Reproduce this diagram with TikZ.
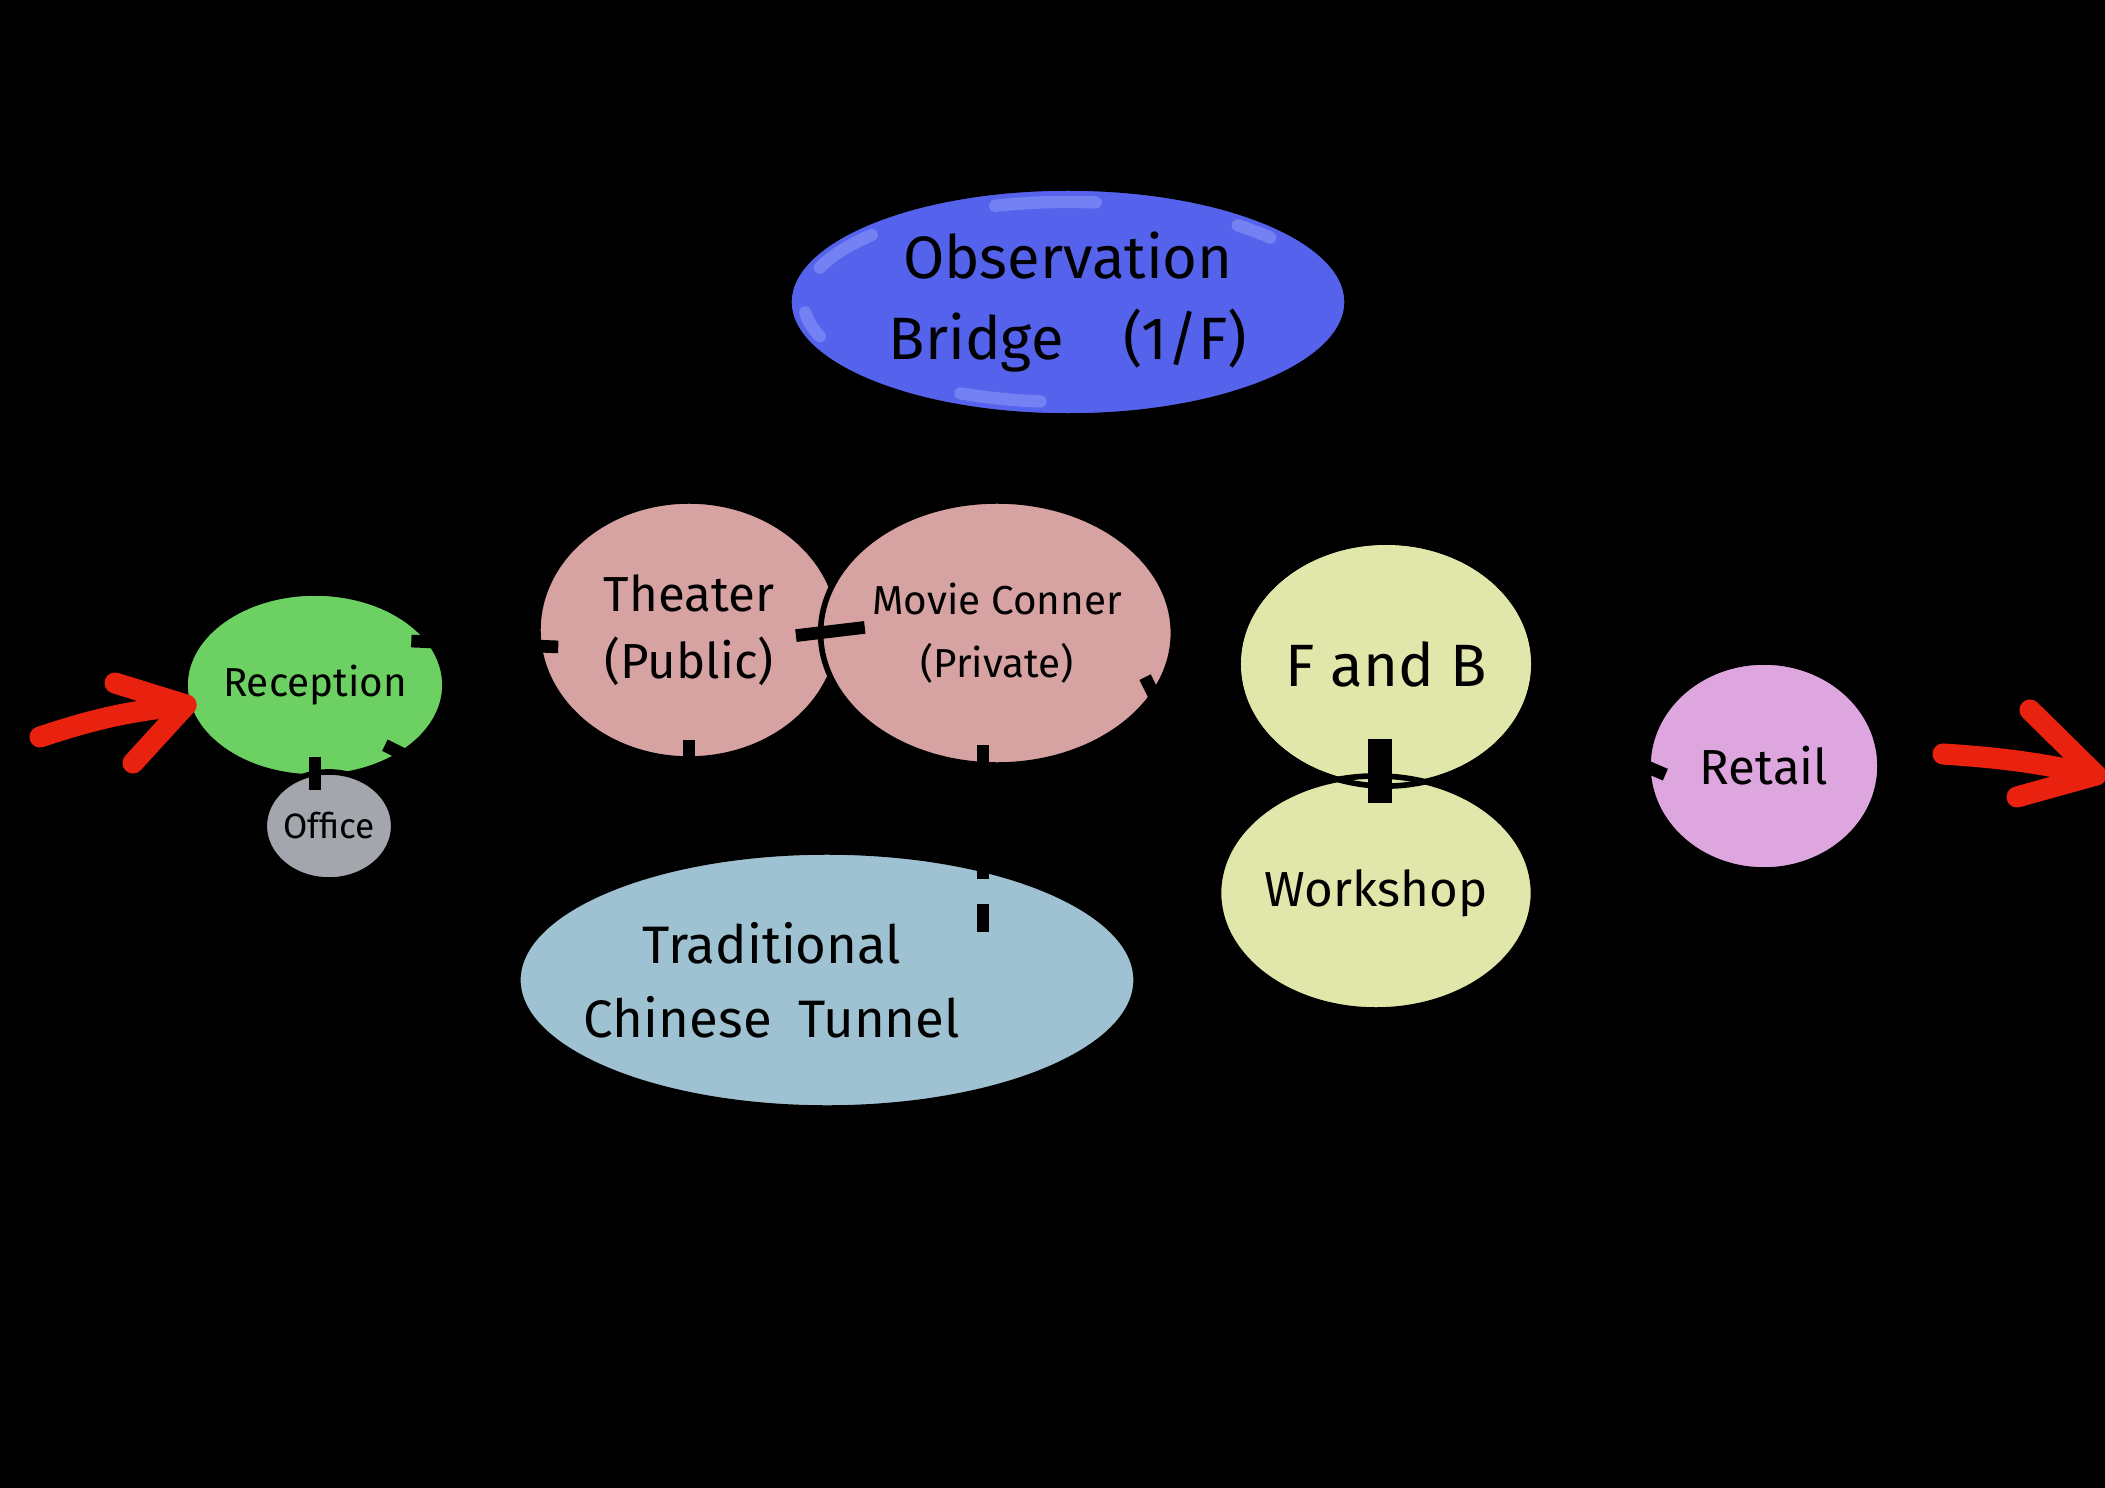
\documentclass[tikz,border=0pt]{standalone}
\usepackage{fontspec}
\setmainfont{Fira Sans}
\usepackage{xcolor}
\usepackage{tikz}
\usetikzlibrary{shapes, arrows.meta, positioning, calc, backgrounds}
\definecolor{obsblue}{HTML}{5562EC}
\definecolor{obslight}{HTML}{7381F2}
\definecolor{theaterpink}{HTML}{D6A2A2}
\definecolor{recgreen}{HTML}{6CD062}
\definecolor{officegray}{HTML}{A3A6AD}
\definecolor{tunnelblue}{HTML}{9EC2D2}
\definecolor{fbyellow}{HTML}{E1E7AA}
\definecolor{retailpink}{HTML}{DDA6DE}
\definecolor{flowred}{HTML}{E8220E}
\newcommand{\bigtxt}{\fontsize{17pt}{23pt}\selectfont}
\newcommand{\midtxt}{\fontsize{14pt}{19pt}\selectfont}
\newcommand{\smalltxt}{\fontsize{11.5pt}{18pt}\selectfont}

\begin{document}
\begin{tikzpicture}[
    x=0.01cm, y=-0.01cm,
    bubble/.style={ellipse, draw=black, line width=1.6pt, inner sep=0pt, align=center, text=black},
    link/.style={black, line width=3.6pt, shorten <=-0.22cm, shorten >=-0.22cm},
    flow/.style={flowred, line width=6pt, line cap=round, line join=round},
    streak/.style={obslight, line width=3.5pt, line cap=round},
]
% canvas
\fill[black] (0,0) rectangle (2105,1488);
\useasboundingbox (0,0) rectangle (2105,1488);
% upper floor
\node[bubble, fill=obsblue, minimum width=5.58cm, minimum height=2.28cm, font=\bigtxt] (obs) at (1068,302) {Observation\\Bridge\quad(1/F)};
\draw[streak] (obs.center) ++(160:2.64cm and 1.0cm) arc[start angle=160, end angle=138, x radius=2.64cm, y radius=1.0cm];
\draw[streak] (obs.center) ++(106:2.64cm and 1.0cm) arc[start angle=106, end angle=84, x radius=2.64cm, y radius=1.0cm];
\draw[streak] (obs.center) ++(50:2.64cm and 1.0cm) arc[start angle=50, end angle=40, x radius=2.64cm, y radius=1.0cm];
\draw[streak] (obs.center) ++(-114:2.64cm and 1.0cm) arc[start angle=-114, end angle=-96, x radius=2.64cm, y radius=1.0cm];
\draw[streak] (obs.center) ++(-174:2.64cm and 1.0cm) arc[start angle=-174, end angle=-160, x radius=2.64cm, y radius=1.0cm];
% entrance side
\node[bubble, fill=recgreen, minimum width=2.08cm, minimum height=1.84cm, font=\smalltxt] (reception) at (315,685) {Reception};
\node[bubble, fill=officegray, minimum width=1.2cm, minimum height=1.08cm, font=\fontsize{10pt}{12pt}\selectfont] (office) at (329,826) {Office};
% cinema pair
\node[bubble, fill=theaterpink, minimum width=3.02cm, minimum height=2.58cm, font=\midtxt] (theater) at (689,630) {Theater\\(Public)};
\node[bubble, fill=theaterpink, minimum width=3.08cm, minimum height=2.64cm, font=\smalltxt] (movie) at (997,633) {Movie Conner\\(Private)};
% tunnel
\node[bubble, fill=tunnelblue, minimum width=6.18cm, minimum height=2.56cm, font=\fontsize{15pt}{21pt}\selectfont] (tunnel) at (827,980) {\makebox[0pt]{Traditional\hspace*{1.1cm}}\\\makebox[0pt]{Chinese\enspace Tunnel\hspace*{1.1cm}}};
% food and making
\node[bubble, fill=fbyellow, minimum width=2.96cm, minimum height=2.44cm, font=\bigtxt] (fandb) at (1386,664) {F and B};
\node[bubble, fill=fbyellow, minimum width=3.08cm, minimum height=2.34cm, font=\midtxt] (workshop) at (1376,893) {Workshop};
\node[bubble, minimum width=2.96cm, minimum height=2.44cm] (fandbrim) at (fandb) {};
% exit side
\node[bubble, fill=retailpink, minimum width=2.32cm, minimum height=2.08cm, font=\midtxt] (retail) at (1764,766) {Retail};
% links
\draw[link] (reception.20) -- (theater.186);
\draw[link, shorten >=0pt] (reception.-38) -- (tunnel.150);
\draw[link, shorten <=-0.1cm, shorten >=-0.12cm] (reception.south) -- (reception.south |- office.north);
\draw[link] (theater.east) -- (movie.west);
\draw[link, shorten >=0pt] (theater.south) -- (tunnel.north -| theater.south);
\draw[link, dash pattern=on 8pt off 7pt, shorten >=-0.9cm] (movie.-96) -- (tunnel.north -| movie.-96);
\draw[link, shorten >=0pt] (movie.-22) -- (workshop.162);
\draw[link, line width=7pt, shorten <=0pt, shorten >=0pt] ($(fandb.south)+(-6,-50)$) -- ($(workshop.north)+(4,30)$);
\draw[link, shorten <=0pt] (fandb.-20) -- (retail.west);
% way in
\coordinate (inlet) at (40,737);
\coordinate (inlettip) at (186,705);
\coordinate (inletup) at (115,683);
\coordinate (inletlow) at (133,763);
\draw[flow] (inlet) to[bend left=6] (inlettip);
\draw[flow] (inletup) -- (inlettip) -- (inletlow);
% way out
\coordinate (outlet) at (1943,754);
\coordinate (outlettip) at (2096,775);
\coordinate (outletup) at (2030,710);
\coordinate (outletlow) at (2017,797);
\draw[flow] (outlet) to[bend left=4] (outlettip);
\draw[flow] (outletup) -- (outlettip) -- (outletlow);
\end{tikzpicture}
\end{document}
